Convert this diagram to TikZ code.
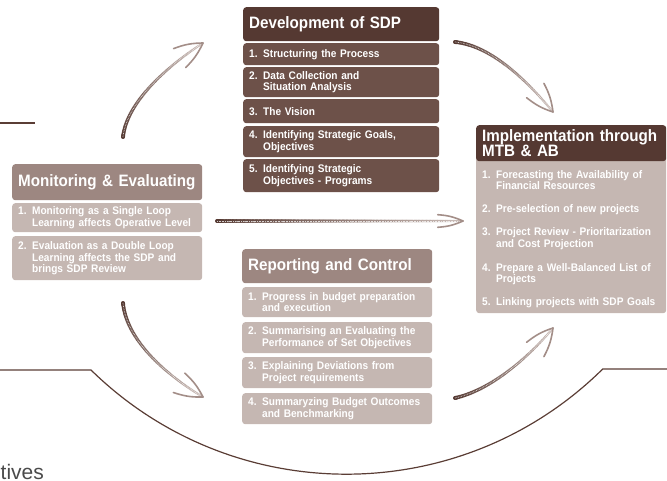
\documentclass[tikz,border=0pt]{standalone}
\usepackage{fontspec}
\setmainfont{Liberation Sans}
\newfontfamily\boxfont{Liberation Sans}[FakeStretch=0.92]
\usetikzlibrary{calc,decorations.markings}
\definecolor{hdrdark}{HTML}{553932}
\definecolor{itemdark}{HTML}{6D5149}
\definecolor{hdrmid}{HTML}{9D8781}
\definecolor{itemlight}{HTML}{C5B7B2}
\definecolor{arrdark}{HTML}{553932}
\definecolor{arrlight}{HTML}{CDBFBA}
\definecolor{barbcol}{HTML}{A38E88}
\definecolor{linecol}{HTML}{5A3D35}
\definecolor{ghost}{HTML}{4A4A4A}
\newcommand\brswmark{%
  \pgfmathsetmacro\brfr{\pgfkeysvalueof{/pgf/decoration/mark info/distance from start}/\pgfdecoratedpathlength}%
  \pgfmathsetmacro\brpc{100*(1-\brfr)}%
  \pgfmathsetmacro\brr{2.0-0.8*\brfr}%
  \fill[arrdark!\brpc!arrlight] (0,0) circle[radius=\brr pt];}
\tikzset{
  boxbase/.style={anchor=north west, rounded corners=3pt, text=white, inner xsep=6pt, inner ysep=0pt, align=left, execute at begin node={\hyphenpenalty=10000 }},
  hdr/.style={boxbase, font=\boxfont\bfseries\fontsize{16.5}{15}\selectfont},
  itm/.style={boxbase, font=\boxfont\bfseries\fontsize{11}{11.5}\selectfont},
  implitem/.style={itm, anchor=west, text width=178pt},
  fadestroke/.style={postaction={decorate}, decoration={markings, mark=between positions 0 and 1 step 0.8pt with {\brswmark}}},
  dotover/.style={white, opacity=0.75, line width=0.8pt, dash pattern=on 0.7pt off 0.9pt},
  barb/.style={barbcol, line width=1.6pt, line cap=round},
  circline/.style={linecol, line width=1.2pt},
}
\newcommand\brswoosh[6]{%
  \path[fadestroke] (#1) .. controls (#2) and (#3) .. (#4);
  \draw[dotover] (#1) .. controls (#2) and (#3) .. (#4);
  \draw[barb] (#4) to[bend left=10] ($(#4)!#6!#5:(#3)$);
  \draw[barb] (#4) to[bend right=10] ($(#4)!#6!-#5:(#3)$);
}
\begin{document}
\begin{tikzpicture}[x=1pt,y=-1pt]
\useasboundingbox (0,0) rectangle (667,481);

% remnants of the surrounding circle
\draw[circline] (0,123) -- (35,123);
\draw[circline] (0,370) -- (91,370) arc[start angle=134.4, end angle=45.4, radius=365] -- (667,369);
\node[anchor=base west, inner sep=0pt, text=ghost, font=\fontsize{21}{21}\selectfont] (tives) at (0.5,479) {tives};

% Development of SDP
\node[hdr, fill=hdrdark, minimum width=196pt, text width=184pt, minimum height=34pt] (dev) at (243,7) {Development of SDP};
\node[itm, fill=itemdark, minimum width=196pt, text width=184pt, minimum height=22pt] (dev1) at (243,43) {1. Structuring the Process};
\node[itm, fill=itemdark, minimum width=196pt, text width=184pt, minimum height=30pt] (dev2) at (243,67) {2. Data Collection and\\\hphantom{2. }Situation Analysis};
\node[itm, fill=itemdark, minimum width=196pt, text width=184pt, minimum height=24pt] (dev3) at (243,99) {3. The Vision};
\node[itm, fill=itemdark, minimum width=196pt, text width=184pt, minimum height=31pt] (dev4) at (243,126) {4. Identifying Strategic Goals,\\\hphantom{4. }Objectives};
\node[itm, fill=itemdark, minimum width=196pt, text width=184pt, minimum height=33pt] (dev5) at (243,159) {5. Identifying Strategic\\\hphantom{5. }Objectives - Programs};

% Implementation through MTB & AB
\node[boxbase, fill=itemlight, minimum width=190pt, text width=178pt, minimum height=158pt] (implbody) at (476,155) {};
\node[hdr, fill=hdrdark, minimum width=190pt, text width=178pt, minimum height=36pt] (impl) at (476,125) {Implementation through\\MTB \& AB};
\node[implitem] (impl1) at (476,180) {1. Forecasting the Availability of\\\hphantom{1. }Financial Resources};
\node[implitem] (impl2) at (476,209.5) {2. Pre-selection of new projects};
\node[implitem] (impl3) at (476,238.5) {3. Project Review - Prioritarization\\\hphantom{3. }and Cost Projection};
\node[implitem] (impl4) at (476,274) {4. Prepare a Well-Balanced List of\\\hphantom{4. }Projects};
\node[implitem] (impl5) at (476,303) {5. Linking projects with SDP Goals};

% Monitoring & Evaluating
\node[hdr, fill=hdrmid, minimum width=190pt, text width=178pt, minimum height=36pt] (mon) at (12,164) {Monitoring \& Evaluating};
\node[itm, fill=itemlight, minimum width=190pt, text width=178pt, minimum height=29pt] (mon1) at (12,203) {1. Monitoring as a Single Loop\\\hphantom{1. }Learning affects Operative Level};
\node[itm, fill=itemlight, minimum width=190pt, text width=178pt, minimum height=44pt] (mon2) at (12,236) {2. Evaluation as a Double Loop\\\hphantom{2. }Learning affects the SDP and\\\hphantom{2. }brings SDP Review};

% Reporting and Control
\node[hdr, fill=hdrmid, minimum width=190pt, text width=178pt, minimum height=34pt] (rep) at (242,249) {Reporting and Control};
\node[itm, fill=itemlight, minimum width=190pt, text width=178pt, minimum height=30pt] (rep1) at (242,287) {1. Progress in budget preparation\\\hphantom{1. }and execution};
\node[itm, fill=itemlight, minimum width=190pt, text width=178pt, minimum height=31pt] (rep2) at (242,322) {2. Summarising an Evaluating the\\\hphantom{2. }Performance of Set Objectives};
\node[itm, fill=itemlight, minimum width=190pt, text width=178pt, minimum height=31pt] (rep3) at (242,357) {3. Explaining Deviations from\\\hphantom{3. }Project requirements};
\node[itm, fill=itemlight, minimum width=190pt, text width=178pt, minimum height=31pt] (rep4) at (242,393) {4. Summaryzing Budget Outcomes\\\hphantom{4. }and Benchmarking};

% arrow anchors
\coordinate (a1s) at (123,137); \coordinate (a1c) at (127,100); \coordinate (a1d) at (172,63); \coordinate (a1t) at (203,43);
\coordinate (a2s) at (455,42);  \coordinate (a2c) at (495,46);  \coordinate (a2d) at (534,89); \coordinate (a2t) at (553,112);
\coordinate (a3s) at (217,221); \coordinate (a3c) at (300,221); \coordinate (a3d) at (400,221); \coordinate (a3t) at (463,221);
\coordinate (a4s) at (123,303); \coordinate (a4c) at (127,345); \coordinate (a4d) at (176,381); \coordinate (a4t) at (203,397);
\coordinate (a5s) at (455,398); \coordinate (a5c) at (495,389); \coordinate (a5d) at (534,351); \coordinate (a5t) at (553,328);

\brswoosh{a1s}{a1c}{a1d}{a1t}{22}{30pt}
\brswoosh{a2s}{a2c}{a2d}{a2t}{22}{30pt}
\brswoosh{a3s}{a3c}{a3d}{a3t}{14}{26pt}
\brswoosh{a4s}{a4c}{a4d}{a4t}{22}{30pt}
\brswoosh{a5s}{a5c}{a5d}{a5t}{22}{30pt}
\end{tikzpicture}
\end{document}
